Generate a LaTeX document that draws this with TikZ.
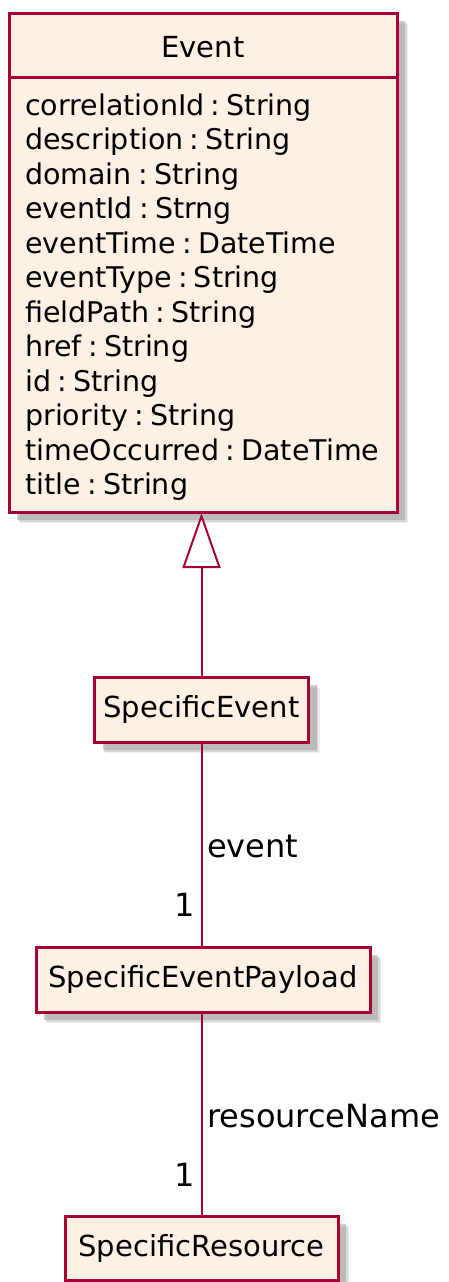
\documentclass[tikz,border=0pt]{standalone}
\usepackage{fontspec}
\setmainfont{DejaVu Sans}
\usetikzlibrary{arrows.meta,shadows}
\definecolor{umlborder}{RGB}{168,0,54}
\definecolor{umlfill}{RGB}{252,241,227}
\newcommand\mycolon{\hspace{0.22em}:\hspace{0.22em}}
\tikzset{
  umlshadow/.style={
    drop shadow={shadow xshift=11pt,shadow yshift=-11pt,fill=black!12},
    drop shadow={shadow xshift=9.5pt,shadow yshift=-9.5pt,fill=black!25},
    drop shadow={shadow xshift=8pt,shadow yshift=-8pt,fill=black!38}},
  classbox/.style={draw=umlborder,fill=umlfill,line width=3pt,rectangle,inner sep=0pt,umlshadow,
    font=\fontsize{29}{34}\selectfont},
  attr/.style={anchor=base west,inner sep=0pt,font=\fontsize{28.5}{34}\selectfont},
  assoc/.style={draw=umlborder,line width=2pt},
  lbl/.style={inner sep=0pt,font=\fontsize{32}{36}\selectfont},
}
\begin{document}
\begin{tikzpicture}[x=1pt,y=-1pt]
\useasboundingbox (0,0) rectangle (449,1282);
% Event class
\node[classbox,minimum width=388pt,minimum height=499pt] (event) at (203,262.5) {};
\draw[umlborder,line width=3pt] (event.west |- 0,77) -- (event.east |- 0,77);
\node[anchor=base,inner sep=0pt,font=\fontsize{29}{34}\selectfont] (eventtitle) at (203,57) {Event};
\node[attr] (a1) at (25,115) {correlationId\mycolon String};
\node[attr] (a2) at (25,149.5) {description\mycolon String};
\node[attr] (a3) at (25,184) {domain\mycolon String};
\node[attr] (a4) at (25,218.5) {eventId\mycolon Strng};
\node[attr] (a5) at (25,253) {eventTime\mycolon DateTime};
\node[attr] (a6) at (25,287.5) {eventType\mycolon String};
\node[attr] (a7) at (25,322) {fieldPath\mycolon String};
\node[attr] (a8) at (25,356.5) {href\mycolon String};
\node[attr] (a9) at (25,391) {id\mycolon String};
\node[attr] (a10) at (25,425.5) {priority\mycolon String};
\node[attr] (a11) at (25,460) {timeOccurred\mycolon DateTime};
\node[attr] (a12) at (25,494.5) {title\mycolon String};
% other classes
\node[classbox,minimum width=214pt,minimum height=65pt] (se) at (201.5,709.5) {SpecificEvent};
\node[classbox,minimum width=334pt,minimum height=65pt] (sep) at (203,979.5) {SpecificEventPayload};
\node[classbox,minimum width=273pt,minimum height=64pt] (sr) at (201.5,1248) {SpecificResource};
% connectors
\coordinate (gtip) at (201.5,513);
\draw[assoc,-{Triangle[open,fill=white,length=55pt,width=38pt,line width=2pt]}] (se.north) -- (gtip);
\draw[assoc] (se.south) -- (se.south |- sep.north);
\draw[assoc] (se.south |- sep.south) -- (se.south |- sr.north);
% labels
\node[lbl,anchor=base west] (l1) at (207,857) {event};
\node[lbl,anchor=base east] (m1) at (195,916) {1};
\node[lbl,anchor=base west] (l2) at (207,1127) {resourceName};
\node[lbl,anchor=base east] (m2) at (195,1186) {1};
\end{tikzpicture}
\end{document}
